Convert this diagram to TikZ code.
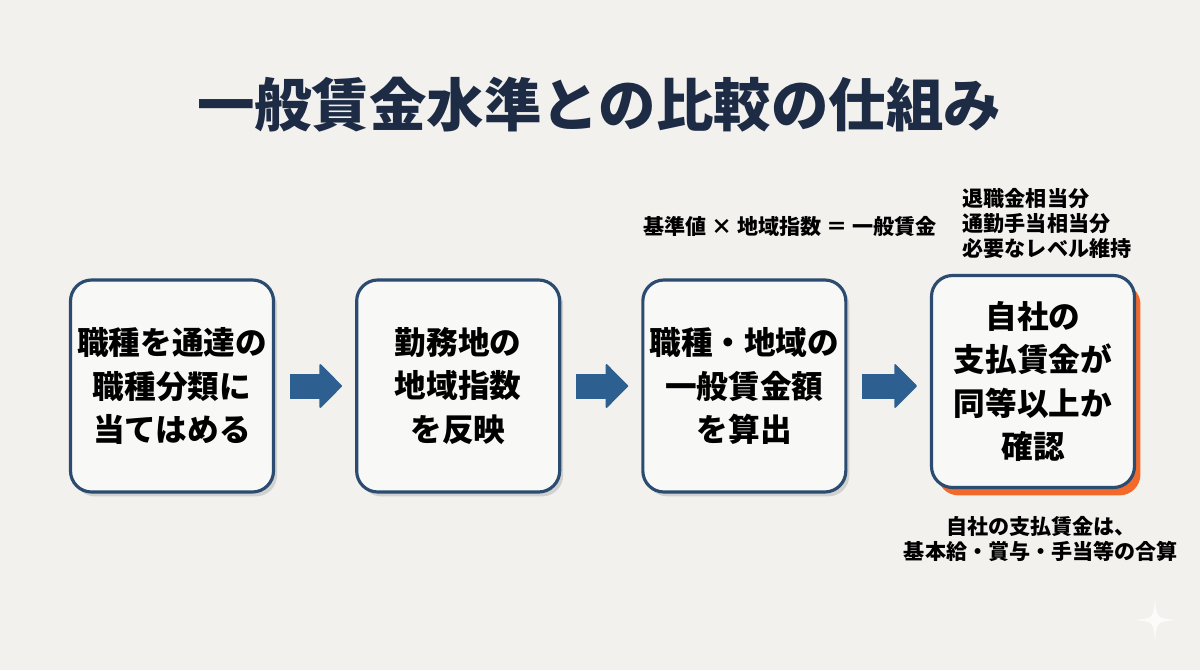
\documentclass[tikz,border=0pt]{standalone}
\usepackage{fontspec}
\newfontfamily\cjk{Noto Sans CJK JP}
\usetikzlibrary{arrows.meta,calc,positioning,shadows}
\definecolor{paper}{HTML}{F2F1EE}
\definecolor{boxfill}{HTML}{F8F8F6}
\definecolor{navyline}{HTML}{2B4C70}
\definecolor{flowblue}{HTML}{2D6090}
\definecolor{titlenavy}{HTML}{1D2B44}
\definecolor{accent}{HTML}{F2692C}
\tikzset{basebox/.style={draw=navyline,line width=1.8pt,rounded corners=12pt,fill=boxfill,align=center,
    minimum width=4.06cm,minimum height=4.24cm,inner sep=2pt,font=\cjk\bfseries\fontsize{18}{24.5}\selectfont},
  stepbox/.style={basebox,drop shadow={shadow xshift=2pt,shadow yshift=-2.5pt,fill=black!30,opacity=.5}},
  checkbox/.style={basebox,drop shadow={shadow xshift=3.4pt,shadow yshift=-4.5pt,fill=accent,opacity=1}},
  note/.style={font=\cjk\bfseries\fontsize{12}{14.2}\selectfont,inner sep=0pt},
  flowarr/.style={flowblue,line width=0.5cm,-{Triangle[length=0.46cm,width=0.92cm,line width=1pt,round]},
    shorten <=0.3cm,shorten >=0.26cm}}
\begin{document}
\begin{tikzpicture}
\fill[paper] (0,0) rectangle (24,-13.4);
\useasboundingbox (0,0) rectangle (24,-13.4);
% title
\node[text=titlenavy,font=\cjk\bfseries\fontsize{32.7}{36}\selectfont] (title) at (11.98,-2.1) {一般賃金水準との比較の仕組み};
% four steps
\node[stepbox] (b1) at (3.44,-7.72) {職種を通達の\\職種分類に\\当てはめる};
\node[stepbox,right=1.6cm of b1] (b2) {勤務地の\\地域指数\\を反映};
\node[stepbox,right=1.6cm of b2] (b3) {職種・地域の\\一般賃金額\\を算出};
\node[checkbox,right=1.65cm of b3,yshift=0.09cm] (b4) {自社の\\支払賃金が\\同等以上か\\確認};
\draw[flowarr] (b1) -- (b2);
\draw[flowarr] (b2) -- (b3);
\draw[flowarr] (b3) -- (b4.west |- b3);
% notes
\node[note] (formula) at ($(b3.north)+(0.92,1.04)$) {基準値 × 地域指数 ＝ 一般賃金};
\node[note,align=left] (extra) at ($(b4.north)+(0.28,1.0)$) {退職金相当分\\通勤手当相当分\\必要なレベル維持};
\node[note,align=center] (sum) at ($(b4.south)+(0.16,-1.0)$) {自社の支払賃金は、\\基本給・賞与・手当等の合算};
% faint sparkle
\fill[white!70!paper] (23.1,-11.95) .. controls (23.13,-12.37) .. (23.55,-12.4)
  .. controls (23.13,-12.43) .. (23.1,-12.85) .. controls (23.07,-12.43) .. (22.65,-12.4)
  .. controls (23.07,-12.37) .. (23.1,-11.95);
\end{tikzpicture}
\end{document}
